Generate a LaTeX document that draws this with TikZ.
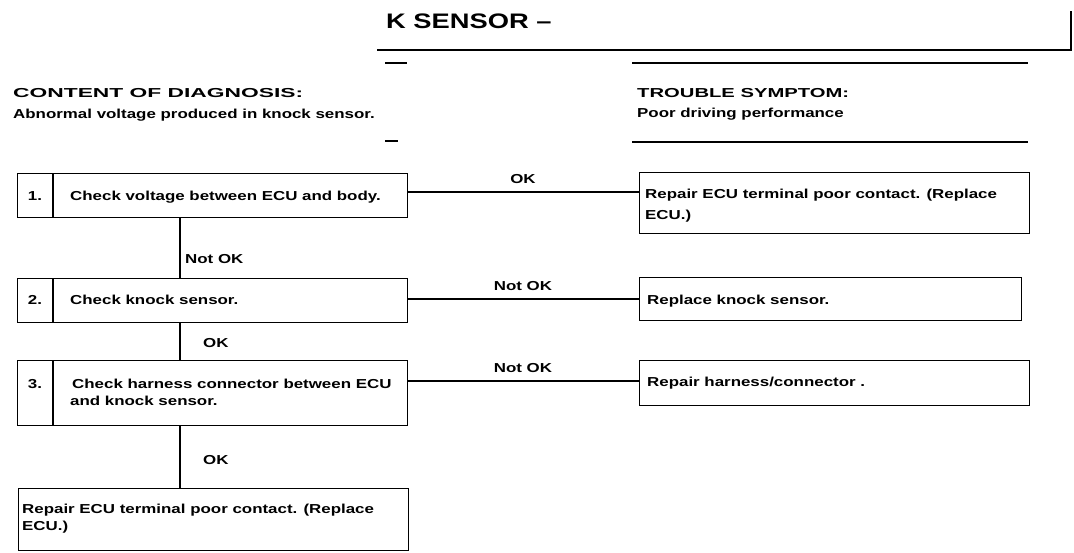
\documentclass[tikz,border=0pt]{standalone}
\usepackage{fontspec}
\setmainfont{Liberation Sans}[FakeStretch=1.3]
\usetikzlibrary{calc}
\begin{document}
\begin{tikzpicture}[x=1pt,y=-1pt,
  rule/.style={line width=1.3pt},
  conn/.style={line width=1.3pt},
  box/.style={draw, line width=1.3pt, rectangle, inner sep=0pt, anchor=north west},
  txt/.style={anchor=base west, inner sep=0pt, font=\bfseries\fontsize{13}{17}\selectfont},
  lbl/.style={anchor=base, inner sep=0pt, font=\bfseries\fontsize{13}{17}\selectfont},
  num/.style={anchor=base, inner sep=0pt, font=\bfseries\fontsize{13}{17}\selectfont}]
\useasboundingbox[fill=white] (0,0) rectangle (1074,552);

% title block
\node[txt, font=\bfseries\fontsize{21}{25}\selectfont] (title) at (386,28) {K SENSOR –};
\coordinate (tl) at (377,50);
\coordinate (tr) at (1071,50);
\coordinate (tt) at (1071,11);
\draw[rule] (tl) -- (tr) -- (tt);
\draw[rule] (385,63) -- (407,63);
\draw[rule] (632,63) -- (1028,63);
\draw[rule] (385,141) -- (398,141);
\draw[rule] (632,142) -- (1028,142);

\node[txt] (cd) at (13,97) {\resizebox{290pt}{\height}{CONTENT OF DIAGNOSIS:}};
\node[txt] (cdt) at (13,118) {Abnormal voltage produced in knock sensor.};
\node[txt] (ts) at (637,97) {\resizebox{212pt}{\height}{TROUBLE SYMPTOM:}};
\node[txt] (tst) at (637,117) {Poor driving performance};

% left boxes
\node[box, minimum width=390pt, minimum height=44pt] (b1) at (17,173) {};
\node[box, minimum width=390pt, minimum height=44pt] (b2) at (17,278) {};
\node[box, minimum width=390pt, minimum height=65pt] (b3) at (17,360) {};
\node[box, minimum width=390pt, minimum height=62pt] (b4) at (18,488) {};

\coordinate (dv) at (53,0);
\draw[rule] (b1.north -| dv) -- (b1.south -| dv);
\draw[rule] (b2.north -| dv) -- (b2.south -| dv);
\draw[rule] (b3.north -| dv) -- (b3.south -| dv);

\node[num] (n1) at (35,200) {1.};
\node[num] (n2) at (35,304) {2.};
\node[num] (n3) at (35,388) {3.};

\node[txt] (t1) at (70,200) {Check voltage between ECU and body.};
\node[txt] (t2) at (70,304) {Check knock sensor.};
\node[txt] (t3a) at (72,388) {Check harness connector between ECU};
\node[txt] (t3b) at (70,405) {and knock sensor.};
\node[txt] (t4a) at (22,513) {Repair ECU terminal poor contact. (Replace};
\node[txt] (t4b) at (22,530) {ECU.)};

% right boxes
\node[box, minimum width=390pt, minimum height=61pt] (r1) at (639,172) {};
\node[box, minimum width=382pt, minimum height=43pt] (r2) at (639,277) {};
\node[box, minimum width=390pt, minimum height=45pt] (r3) at (639,360) {};

\node[txt] (r1a) at (645,198) {Repair ECU terminal poor contact. (Replace};
\node[txt] (r1b) at (645,219) {ECU.)};
\node[txt] (r2t) at (647,304) {Replace knock sensor.};
\node[txt] (r3t) at (647,386) {Repair harness/connector .};

% connectors
\coordinate (sp) at (180,0);
\draw[conn] (b1.south -| sp) -- (b2.north -| sp);
\draw[conn] (b2.south -| sp) -- (b3.north -| sp);
\draw[conn] (b3.south -| sp) -- (b4.north -| sp);

\coordinate (c1) at (0,192);
\coordinate (c2) at (0,299);
\coordinate (c3) at (0,381);
\draw[conn] (b1.east |- c1) -- (r1.west |- c1);
\draw[conn] (b2.east |- c2) -- (r2.west |- c2);
\draw[conn] (b3.east |- c3) -- (r3.west |- c3);

\node[lbl] (l1) at (523,183) {OK};
\node[lbl] (l2) at (523,290) {Not OK};
\node[lbl] (l3) at (523,372) {Not OK};

\node[txt] (v1) at (185,263) {Not OK};
\node[txt] (v2) at (203,347) {OK};
\node[txt] (v3) at (203,464) {OK};
\end{tikzpicture}
\end{document}
